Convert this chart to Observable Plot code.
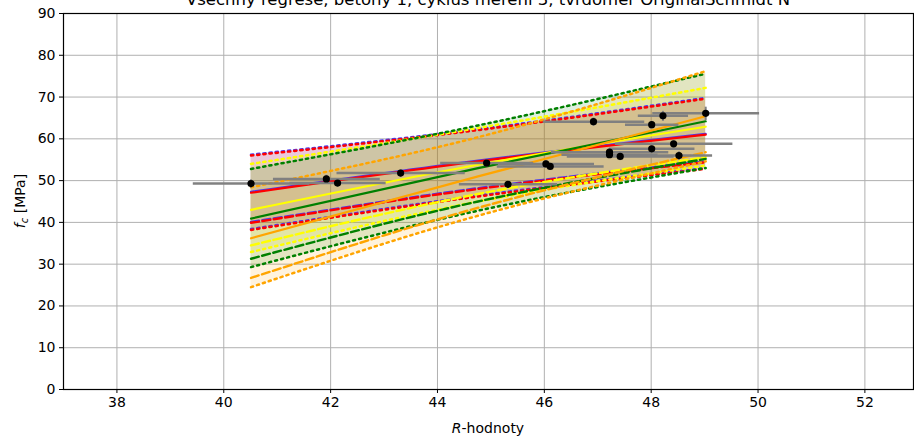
<!DOCTYPE html>
<html><head><meta charset="utf-8">
<script src="https://cdn.jsdelivr.net/npm/d3@7"></script>
<script src="https://cdn.jsdelivr.net/npm/@observablehq/plot@0.6"></script>
<style>body{margin:0;background:#fff} svg{display:block;overflow:visible}</style>
</head><body><div id="chart"></div>
<script>
const title = "Všechny regrese, betony 1, cyklus měření 3, tvrdoměr OriginalSchmidt N";
const xTicks = [38, 40, 42, 44, 46, 48, 50, 52];
const yTicks = [0, 10, 20, 30, 40, 50, 60, 70, 80, 90];

// x positions at which the regression curves are read
const bandX = [40.51, 44.76, 49.02];

// each series: fit, prediction upper, prediction lower, characteristic (dashed) lower
const seriesNames = ["blue", "red", "yellow", "green", "orange"];
const seriesColors = ["#4a3cf0", "#ff0000", "#ffff00", "#008000", "#ffa500"];

const blueFit   = [47.3, 54.8, 61.2];
const blueUpper = [56.2, 62.3, 69.8];
const blueLower = [38.4, 46.4, 53.0];
const blueChar  = [40.1, 48.2, 54.6];

const redFit   = [47.1, 54.6, 61.0];
const redUpper = [56.0, 62.1, 69.6];
const redLower = [38.2, 46.2, 52.8];
const redChar  = [39.9, 48.0, 54.4];

const yellowFit   = [43.0, 53.8, 62.9];
const yellowUpper = [54.0, 62.6, 72.2];
const yellowLower = [32.9, 45.0, 53.6];
const yellowChar  = [34.5, 46.8, 55.6];

const greenFit   = [40.9, 53.0, 64.2];
const greenUpper = [52.8, 63.2, 75.6];
const greenLower = [29.3, 42.8, 53.0];
const greenChar  = [31.3, 45.0, 55.2];

const orangeFit   = [36.2, 51.0, 65.4];
const orangeUpper = [48.4, 60.4, 76.2];
const orangeLower = [24.5, 41.6, 54.6];
const orangeChar  = [26.7, 43.5, 56.8];

// measured points: R value, fc, and their error half-widths
const pointR     = [40.51, 41.92, 42.13, 43.31, 44.92, 45.32, 46.03, 46.11, 46.92, 47.22, 47.22, 47.42, 48.01, 48.01, 48.22, 48.42, 48.52, 49.02];
const pointFc    = [49.3, 50.4, 49.4, 51.8, 54.2, 49.1, 54.0, 53.4, 64.1, 56.8, 56.2, 55.8, 63.4, 57.6, 65.5, 58.8, 56.0, 66.1];
const pointRErr  = [1.09, 1.0, 0.9, 1.2, 0.87, 0.92, 0.9, 1.0, 0.95, 1.1, 0.9, 1.0, 0.5, 0.8, 0.47, 1.1, 0.62, 1.0];
const pointFcErr = [1.0, 1.0, 0.8, 0.9, 0.9, 0.8, 0.9, 0.8, 1.0, 0.9, 0.8, 0.9, 0.9, 0.8, 1.2, 0.8, 1.0, 1.6];

const seriesArrays = [
  [blueFit, blueUpper, blueLower, blueChar],
  [redFit, redUpper, redLower, redChar],
  [yellowFit, yellowUpper, yellowLower, yellowChar],
  [greenFit, greenUpper, greenLower, greenChar],
  [orangeFit, orangeUpper, orangeLower, orangeChar]
];

const series = seriesNames.map((name, i) => ({
  name, color: seriesColors[i],
  rows: bandX.map((x, j) => ({
    x, fit: seriesArrays[i][0][j], upper: seriesArrays[i][1][j],
    lower: seriesArrays[i][2][j], char: seriesArrays[i][3][j]
  }))
}));

const points = pointR.map((r, i) => ({r, fc: pointFc[i], re: pointRErr[i], fe: pointFcErr[i]}));

const curve = "natural";
const marks = [
  Plot.gridX(xTicks, {stroke: "#b0b0b0", strokeOpacity: 1, strokeWidth: 1}),
  Plot.gridY(yTicks, {stroke: "#b0b0b0", strokeOpacity: 1, strokeWidth: 1})
];
for (const s of series) {
  marks.push(Plot.areaY(s.rows, {x: "x", y1: "lower", y2: "upper", fill: s.color, fillOpacity: 0.13, curve}));
}
for (const s of series) {
  marks.push(Plot.line(s.rows, {x: "x", y: "upper", stroke: s.color, strokeWidth: 2.5, strokeDasharray: "2.2,4", curve}));
  marks.push(Plot.line(s.rows, {x: "x", y: "lower", stroke: s.color, strokeWidth: 2.5, strokeDasharray: "2.2,4", curve}));
  marks.push(Plot.line(s.rows, {x: "x", y: "char", stroke: s.color, strokeWidth: 2.4, strokeDasharray: "8,3.5", curve}));
  marks.push(Plot.line(s.rows, {x: "x", y: "fit", stroke: s.color, strokeWidth: 2.2, curve}));
}
marks.push(
  Plot.link(points, {x1: d => d.r - d.re, x2: d => d.r + d.re, y1: "fc", y2: "fc", stroke: "#808080", strokeWidth: 2.5}),
  Plot.link(points, {x1: "r", x2: "r", y1: d => d.fc - d.fe, y2: d => d.fc + d.fe, stroke: "#808080", strokeWidth: 2}),
  Plot.dot(points, {x: "r", y: "fc", r: 3.6, fill: "black", stroke: "none"}),
  Plot.frame({stroke: "black", strokeWidth: 1.2}),
  Plot.axisX({ticks: xTicks, tickSize: 4, tickPadding: 4, label: null, fontSize: 14}),
  Plot.axisY({ticks: yTicks, tickSize: 4, tickPadding: 4, label: null, fontSize: 14})
);

const chart = Plot.plot({
  width: 914, height: 437,
  marginLeft: 63, marginRight: 1, marginTop: 13, marginBottom: 48,
  style: {fontFamily: "DejaVu Sans", fontSize: "14px", background: "white", color: "black"},
  x: {domain: [37, 52.91]},
  y: {domain: [0, 90]},
  marks
});

const svg = d3.select(chart);
svg.append("text").attr("x", 488).attr("y", 5).attr("text-anchor", "middle")
  .attr("font-size", 16.5).attr("font-family", "DejaVu Sans").attr("fill", "black").text(title);

const xl = svg.append("text").attr("x", 488).attr("y", 433).attr("text-anchor", "middle")
  .attr("font-size", 14).attr("font-family", "DejaVu Sans").attr("fill", "black");
xl.append("tspan").attr("font-style", "italic").text("R");
xl.append("tspan").text("-hodnoty");

const yl = svg.append("text").attr("transform", "translate(25,201) rotate(-90)").attr("text-anchor", "middle")
  .attr("font-size", 14).attr("font-family", "DejaVu Sans").attr("fill", "black");
yl.append("tspan").attr("font-style", "italic").text("f");
yl.append("tspan").attr("font-style", "italic").attr("font-size", 10).attr("dy", 3).text("c");
yl.append("tspan").attr("dy", -3).text(" [MPa]");

document.getElementById("chart").appendChild(chart);
</script>
</body></html>
